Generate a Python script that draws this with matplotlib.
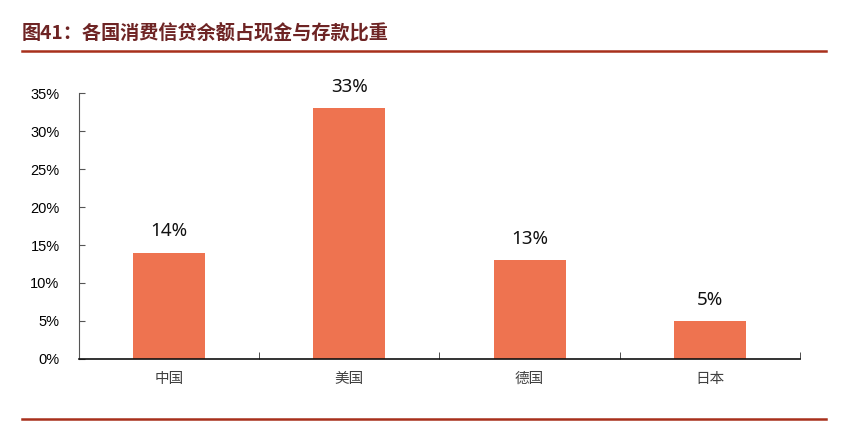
import matplotlib.pyplot as plt
from matplotlib.lines import Line2D

plt.rcParams['font.family'] = ['Liberation Sans', 'Noto Sans CJK SC', 'DejaVu Sans']

countries = ['中国', '美国', '德国', '日本']
ratios = [14, 33, 13, 5]
labels = ['14%', '33%', '13%', '5%']
yticks = [0, 5, 10, 15, 20, 25, 30, 35]

fig = plt.figure(figsize=(8.45, 4.22), dpi=100)
ax = fig.add_axes([79 / 845, 63 / 422, 721 / 845, 266 / 422])

x = range(len(countries))
ax.bar(x, ratios, width=0.4, color='#EE7350')
for i, (v, t) in enumerate(zip(ratios, labels)):
    ax.text(i, v + 1.6, t, ha='center', va='bottom', fontsize=13.5,
            family=['Noto Sans', 'DejaVu Sans'], color='#111111')

ax.set_xlim(-0.5, len(countries) - 0.5)
ax.set_ylim(0, 35)
ax.set_yticks(yticks)
ax.set_yticklabels([f'{v}%' for v in yticks], fontsize=10.5)
ax.set_xticks(list(x))
ax.set_xticklabels(countries, family=['Noto Sans CJK SC', 'DejaVu Sans'],
                   fontsize=10.5, color='#404040')
ax.tick_params(axis='x', length=0, pad=9)
ax.tick_params(axis='y', direction='in', length=4, pad=14, color='#555555')

# category separators on the x axis
ax.set_xticks([i + 0.5 for i in range(len(countries))], minor=True)
ax.tick_params(axis='x', which='minor', direction='in', length=5, color='#333333')

for s in ['top', 'right']:
    ax.spines[s].set_visible(False)
ax.spines['left'].set_color('#555555')
ax.spines['bottom'].set_color('#111111')
ax.spines['bottom'].set_linewidth(1.2)

fig.text(22 / 845, 1 - 33 / 422, '图41：各国消费信贷余额占现金与存款比重',
         family=['Noto Sans CJK SC', 'DejaVu Sans'], fontsize=13.8,
         fontweight='bold', color='#6E2424', va='center', ha='left')

fig.add_artist(Line2D([22 / 845, 826 / 845], [1 - 51 / 422, 1 - 51 / 422],
                      color='#A8301C', linewidth=1.8))
fig.add_artist(Line2D([22 / 845, 826 / 845], [1 - 419 / 422, 1 - 419 / 422],
                      color='#A8301C', linewidth=1.8))

fig.savefig('out.png', dpi=100)
